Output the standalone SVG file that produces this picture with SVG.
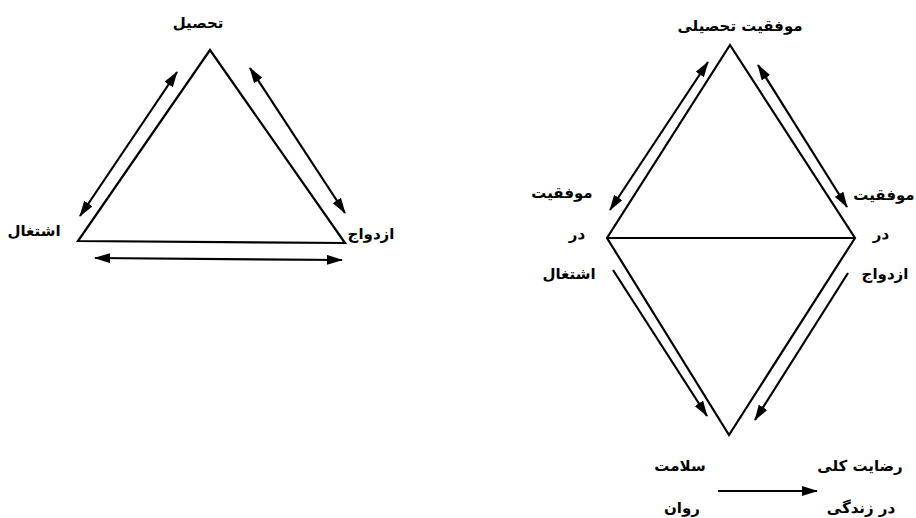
<svg xmlns="http://www.w3.org/2000/svg" width="916" height="518" viewBox="0 0 916 518">
<defs>
<marker id="ah" viewBox="0 0 16 10" refX="15" refY="5" markerWidth="16" markerHeight="10" markerUnits="userSpaceOnUse" orient="auto-start-reverse">
<path d="M0,0 L16,5 L0,10 z" fill="#000"/>
</marker>
</defs>
<style>
.shape{fill:none;stroke:#000;stroke-width:2.2;stroke-linejoin:miter}
.ln{fill:none;stroke:#000;stroke-width:2.2}
.lbl{font-family:"DejaVu Sans",sans-serif;font-size:15px;font-weight:bold;fill:#000;text-anchor:middle;direction:rtl}
</style>
<rect width="916" height="518" fill="#fff"/>
<g id="triangle">
<polygon class="shape" points="210,50 78,241 345,243"/>
</g>
<g id="diamond">
<polygon class="shape" points="730,45 855,238 729,435 607,238"/>
<line class="shape" x1="607" y1="238" x2="855" y2="238"/>
</g>
<g id="node-tahsil"><text class="lbl" x="198" y="28">تحصیل</text></g>
<g id="node-eshteghal"><text class="lbl" x="34" y="236">اشتغال</text></g>
<g id="node-ezdevaj"><text class="lbl" x="371" y="239">ازدواج</text></g>
<g id="node-movafaghiat-tahsili"><text class="lbl" x="740" y="31">موفقیت تحصیلی</text></g>
<g id="node-movafaghiat-eshteghal">
<text class="lbl" x="562" y="198">موفقیت</text>
<text class="lbl" x="577" y="239">در</text>
<text class="lbl" x="569" y="279">اشتغال</text>
</g>
<g id="node-movafaghiat-ezdevaj">
<text class="lbl" x="884" y="200">موفقیت</text>
<text class="lbl" x="881" y="239">در</text>
<text class="lbl" x="885" y="279">ازدواج</text>
</g>
<g id="node-salamat"><text class="lbl" x="680" y="471">سلامت</text><text class="lbl" x="682" y="513">روان</text></g>
<g id="node-rezayat"><text class="lbl" x="860" y="471">رضایت کلی</text><text class="lbl" x="861" y="513">در زندگی</text></g>
<g id="connectors">
<line class="ln" x1="80" y1="216" x2="177" y2="72" marker-start="url(#ah)" marker-end="url(#ah)"/>
<line class="ln" x1="250" y1="68" x2="345" y2="213" marker-start="url(#ah)" marker-end="url(#ah)"/>
<line class="ln" x1="95" y1="258" x2="342" y2="260" marker-start="url(#ah)" marker-end="url(#ah)"/>
<line class="ln" x1="610" y1="210" x2="708" y2="62" marker-start="url(#ah)" marker-end="url(#ah)"/>
<line class="ln" x1="758" y1="65" x2="847" y2="207" marker-start="url(#ah)" marker-end="url(#ah)"/>
<line class="ln" x1="613" y1="270" x2="707" y2="416" marker-end="url(#ah)"/>
<line class="ln" x1="848" y1="273" x2="755" y2="420" marker-end="url(#ah)"/>
<line class="ln" x1="718" y1="491" x2="817" y2="491" marker-end="url(#ah)"/>
</g>
</svg>
